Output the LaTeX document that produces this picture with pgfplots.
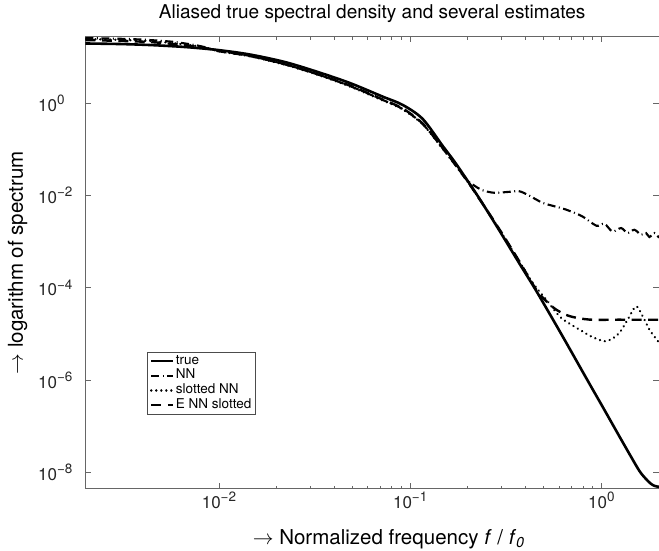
\documentclass[border=0pt]{standalone}
\usepackage{fontspec}
\setmainfont{TeX Gyre Heros}
\usepackage{pgfplots}
\pgfplotsset{compat=1.18}
\newcommand{\ex}[1]{\raisebox{6.8pt}{\fontsize{13.5}{14}\selectfont #1}}
\begin{document}
\begin{tikzpicture}
\useasboundingbox (-85.3pt,-61.3pt) rectangle (573.7pt,488.7pt);
\begin{axis}[
  at={(0pt,0pt)}, anchor=south west,
  scale only axis, width=573.7pt, height=452pt,
  xmode=log, ymode=log,
  xmin=0.002, xmax=2, ymin=4.4e-9, ymax=27.7,
  xtick={0.01,0.1,1}, xticklabels={10\ex{−2},10\ex{−1},10\ex{0}},
  ytick={1e-8,1e-6,1e-4,1e-2,1},
  yticklabels={10\ex{−8},10\ex{−6},10\ex{−4},10\ex{−2},10\ex{0}},
  yminorticks=false,
  tick align=inside, tick pos=both,
  major tick length=5.7pt, minor tick length=3pt,
  axis line style={black!60, line width=0.8pt},
  tick style={black!60, line width=0.8pt},
  tick label style={font=\fontsize{17}{18}\selectfont, black!85},
  yticklabel style={anchor=west, inner sep=0pt, xshift=-47.3pt},
  title={Aliased true spectral density and several estimates},
  title style={at={(rel axis cs:0.5,1.037)}, anchor=center, font=\fontsize{19}{20}\selectfont},
  xlabel={$\rightarrow$ Normalized frequency \textit{f} / \textit{f}\textsubscript{\textit{0}}},
  xlabel style={at={(rel axis cs:0.529,-0.111)}, anchor=center, font=\fontsize{20.5}{21}\selectfont},
  ylabel={$\rightarrow$ logarithm of spectrum},
  ylabel style={at={(rel axis cs:-0.118,0.5)}, anchor=center, font=\fontsize{20.5}{21}\selectfont},
  legend style={at={(rel axis cs:0.107,0.303)}, anchor=north west, draw=black!70, line width=0.6pt,
    fill=white, font=\fontsize{13.5}{14}\selectfont, inner xsep=3pt, inner ysep=1.5pt, row sep=0pt,
    nodes={inner sep=1.3pt, text height=9.2pt, text depth=2.9pt},
    /tikz/every even column/.append style={column sep=5pt}},
  legend cell align=left,
  legend image code/.code={\draw[#1] (1.5pt,0pt) -- (23.5pt,0pt);},
]
\addplot[black, line width=2.6pt, smooth] coordinates {
(0.002,19.75) (0.00304,19.21) (0.00436,18.28) (0.00665,16.55) (0.00988,14.25) (0.01452,11.38)
(0.02211,7.83) (0.03249,4.83) (0.04831,2.75) (0.07185,1.39) (0.09138,0.919) (0.1162,0.457)
(0.1478,0.1191) (0.1708,0.0536) (0.1972,0.02242) (0.2252,0.00985) (0.2602,0.003822)
(0.3041,0.001342) (0.3730,3.323e-4) (0.4468,9.90e-5) (0.5352,2.75e-5) (0.6408,7.52e-6)
(0.8450,9.90e-7) (1.0368,2.242e-7) (1.2417,5.98e-8) (1.4002,2.502e-8) (1.5789,1.072e-8)
(1.6975,7.38e-9) (1.8030,5.75e-9) (1.8919,5.08e-9) (2.0,4.83e-9)};
\addlegendentry{true}
\addplot[black, line width=2.1pt, smooth, dash pattern=on 8pt off 3.5pt on 1pt off 3.5pt] coordinates {
(0.002,25.9) (0.002697,25.27) (0.003429,24.65) (0.004362,23.45) (0.005891,21.22) (0.00796,17.39)
(0.00988,13.90) (0.01452,10.6) (0.02211,7.0) (0.03249,4.3) (0.04831,2.37) (0.07185,1.18)
(0.09138,0.75) (0.1162,0.355) (0.1478,0.105) (0.1708,0.048) (0.1972,0.02187)
(0.2172,0.01622) (0.2390,0.01296) (0.2762,0.01144) (0.3309,0.01203) (0.3730,0.01233)
(0.4207,0.00985) (0.4918,0.00695) (0.5683,0.005836) (0.6568,0.004903) (0.7960,0.003512)
(0.9417,0.002209) (1.0368,0.002440) (1.1413,0.001663) (1.2674,0.001970) (1.3718,0.001535)
(1.4866,0.001810) (1.6116,0.001410) (1.7117,0.001535) (1.7815,0.001258) (1.8919,0.001535)
(2.0,0.001215)};
\addlegendentry{NN}
\addplot[black, line width=2.5pt, smooth, line cap=round, dash pattern=on 0.01pt off 5pt] coordinates {
(0.002,24.65) (0.004362,22.31) (0.00796,16.96) (0.00988,13.55) (0.01452,10.4) (0.02211,6.85)
(0.03249,4.2) (0.04831,2.31) (0.07185,1.15) (0.09138,0.733) (0.1162,0.347) (0.1478,0.103)
(0.1708,0.048) (0.1972,0.02133) (0.2252,0.00961) (0.2602,0.003918) (0.3041,0.001410)
(0.3730,3.672e-4) (0.4378,1.270e-4) (0.5143,5.53e-5) (0.6035,2.404e-5) (0.6806,1.671e-5)
(0.7676,1.239e-5) (0.8867,8.74e-6) (1.0368,6.91e-6) (1.1413,7.91e-6) (1.2417,1.051e-5)
(1.3718,2.040e-5) (1.5174,3.958e-5) (1.6431,2.404e-5) (1.7815,1.239e-5) (1.8919,8.74e-6)
(2.0,6.48e-6)};
\addlegendentry{slotted NN}
\addplot[black, line width=2.4pt, smooth, dash pattern=on 10pt off 6.5pt] coordinates {
(0.002,23.45) (0.004362,21.22) (0.00796,16.55) (0.00988,13.55) (0.01452,10.6) (0.02211,7.0)
(0.03249,4.3) (0.04831,2.42) (0.07185,1.2) (0.09138,0.77) (0.1162,0.363) (0.1478,0.108)
(0.1708,0.049) (0.1972,0.02187) (0.2252,0.00961) (0.2602,0.003918) (0.3041,0.001446)
(0.3730,3.672e-4) (0.4560,9.10e-5) (0.5143,5.13e-5) (0.5800,3.357e-5) (0.6806,2.428e-5)
(0.8656,2.040e-5) (1.2417,2.03e-5) (2.0,2.02e-5)};
\addlegendentry{E NN slotted}
\end{axis}
\end{tikzpicture}
\end{document}
